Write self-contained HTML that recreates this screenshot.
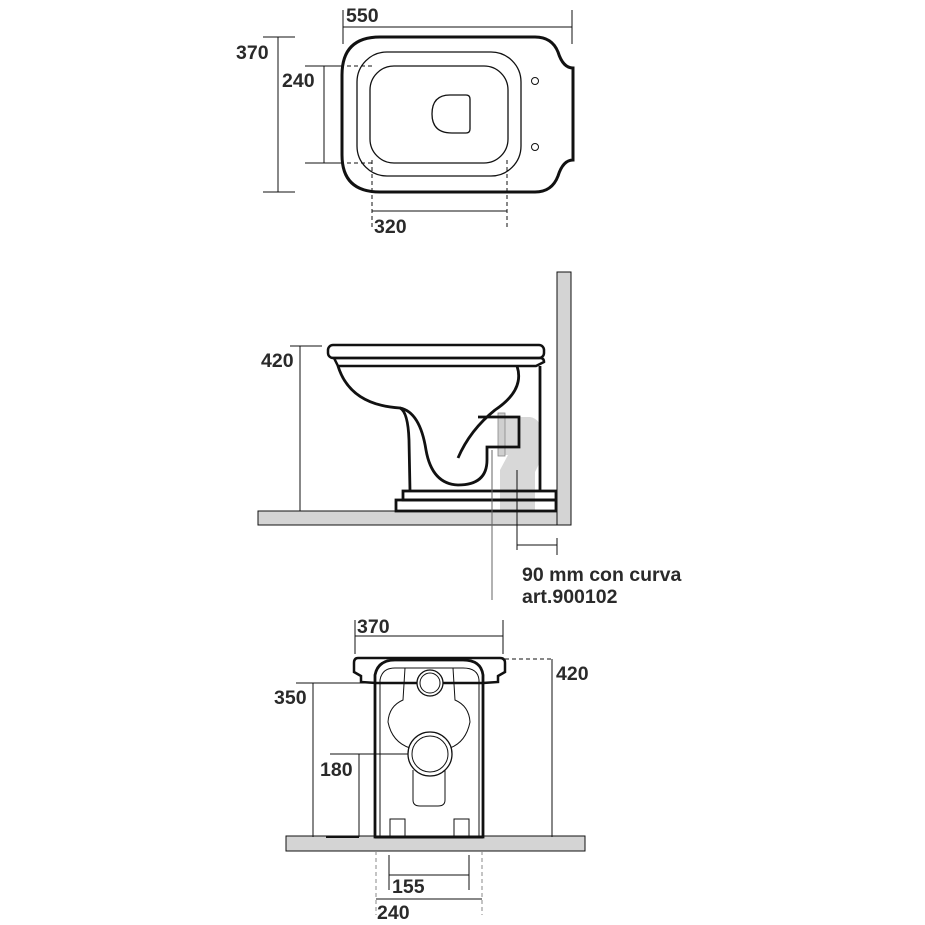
<!DOCTYPE html>
<html><head><meta charset="utf-8"><style>
html,body{margin:0;padding:0;background:#fff;}
svg{display:block;}
text{font-family:"Liberation Sans",Arial,sans-serif;font-weight:bold;font-size:19.5px;fill:#2a2a2a;}
</style></head><body>
<svg width="925" height="925" viewBox="0 0 925 925" xmlns="http://www.w3.org/2000/svg">
<g fill="none" stroke="#111" stroke-width="1">
<!-- TOP VIEW -->
<line x1="343" y1="27" x2="572" y2="27"/>
<line x1="343" y1="10" x2="343" y2="44"/>
<line x1="572" y1="10" x2="572" y2="44"/>
<line x1="278" y1="37" x2="278" y2="192"/>
<line x1="263" y1="37" x2="295" y2="37"/>
<line x1="263" y1="192" x2="295" y2="192"/>
<line x1="324" y1="66" x2="324" y2="163"/>
<line x1="305" y1="66" x2="340" y2="66"/>
<line x1="305" y1="163" x2="340" y2="163"/>
<line x1="340" y1="66" x2="372" y2="66" stroke-dasharray="4,3"/>
<line x1="340" y1="163" x2="372" y2="163" stroke-dasharray="4,3"/>
<line x1="372" y1="211" x2="507" y2="211"/>
<line x1="372" y1="160" x2="372" y2="228" stroke-dasharray="4,3"/>
<line x1="507" y1="160" x2="507" y2="228" stroke-dasharray="4,3"/>
<path d="M380 37 L535 37 Q552 37 558 52 Q563 68 573 68 L573 160 Q563 160 558 176 Q552 192 535 192 L380 192 Q342 192 342 155 L342 75 Q342 37 380 37 Z" stroke-width="3"/>
<rect x="357" y="52" width="164" height="124" rx="30" stroke-width="1.3"/>
<rect x="370" y="66" width="138" height="97" rx="24" stroke-width="1.3"/>
<path d="M450 95 L466 95 Q470 95 470 99 L470 129 Q470 133 466 133 L452 133 Q432 133 432 114 Q432 95 450 95 Z" stroke-width="1.3"/>
<circle cx="535" cy="81" r="3.5"/>
<circle cx="535" cy="147" r="3.5"/>

<!-- SIDE VIEW -->
<rect x="557" y="272" width="14" height="253" fill="#d4d4d4"/>
<rect x="258" y="511" width="299" height="14" fill="#d4d4d4"/>
<path d="M505 417 L530 417 Q541 419 541 432 L541 460 L535 472 L535 511 L500 511 L500 470 L508 455 L505 455 Z" fill="#d8d8d8" stroke="none"/>
<rect x="498" y="413" width="7" height="43" fill="#cfcfcf" stroke="#888" stroke-width="0.8"/>
<line x1="300" y1="346" x2="300" y2="511"/>
<line x1="290" y1="346" x2="322" y2="346"/>
<rect x="328" y="345" width="216" height="13" rx="5" stroke-width="2.5"/>
<path d="M334 358 L540 358 Q544 358 544 362 L536 366 L338 366 Z" stroke-width="2.5"/>
<path d="M338 366 Q350 405 400 408 Q408 412 409 440 L410 491" stroke-width="2.8"/>
<path d="M400 408 Q420 412 426 450 Q432 484 458 485 Q487 485 487 460 L487 447 L519 447 L519 417 L478 417" stroke-width="2.8"/>
<path d="M517 366 Q525 390 495 410 Q470 430 458 458" stroke-width="2.8"/>
<line x1="540" y1="366" x2="540" y2="491" stroke-width="2.8"/>
<rect x="403" y="491" width="153" height="9" stroke-width="2.8"/>
<rect x="396" y="500" width="160" height="11" stroke-width="2.8"/>
<line x1="492" y1="450" x2="492" y2="600" stroke="#666"/>
<line x1="517" y1="470" x2="517" y2="550"/>
<line x1="557" y1="538" x2="557" y2="555"/>
<line x1="517" y1="545" x2="557" y2="545"/>

<!-- FRONT VIEW -->
<rect x="286" y="836" width="299" height="15" fill="#d4d4d4"/>
<line x1="355" y1="636" x2="503" y2="636"/>
<line x1="355" y1="620" x2="355" y2="654"/>
<line x1="503" y1="620" x2="503" y2="654"/>
<line x1="552" y1="659" x2="552" y2="837"/>
<line x1="505" y1="659" x2="552" y2="659" stroke-dasharray="4,3"/>
<line x1="313" y1="683" x2="313" y2="837"/>
<line x1="296" y1="683" x2="380" y2="683"/>
<line x1="380" y1="683" x2="430" y2="683" stroke-dasharray="4,3"/>
<line x1="359" y1="754" x2="359" y2="837"/>
<line x1="330" y1="754" x2="408" y2="754"/>
<line x1="408" y1="754" x2="430" y2="754" stroke-dasharray="4,3"/>
<line x1="326" y1="837" x2="359" y2="837" stroke-width="2"/>
<path d="M358 658 L500 658 Q505 658 505 663 L505 672 L498 676 L498 682 L483 683 L376 683 L361 682 L361 676 L354 672 L354 663 Q354 658 358 658 Z" stroke-width="2.5"/>
<path d="M375 837 L375 675 Q378 660 395 660 L463 660 Q481 660 483 675 L483 837 Z" stroke-width="2.8"/>
<path d="M380 837 L380 680 Q382 668 395 668 L463 668 Q478 668 479 680 L479 837" stroke-width="1"/>
<path d="M405 668 L403 700 Q389 706 388 722 Q392 742 410 748" />
<path d="M453 668 L455 700 Q469 706 470 722 Q466 742 450 748" />
<path d="M413 770 L413 800 Q413 806 420 806 L438 806 Q445 806 445 800 L445 770"/>
<circle cx="430" cy="683" r="13" fill="#fff" stroke-width="1.3"/>
<circle cx="430" cy="683" r="10"/>
<circle cx="430" cy="754" r="22" fill="#fff" stroke-width="1.3"/>
<circle cx="430" cy="754" r="18"/>
<path d="M390 837 L390 819 L405 819 L405 837 M454 837 L454 819 L469 819 L469 837"/>
<line x1="375" y1="837" x2="483" y2="837" stroke-width="3"/>
<line x1="389" y1="875" x2="469" y2="875"/>
<line x1="389" y1="855" x2="389" y2="890"/>
<line x1="469" y1="855" x2="469" y2="890"/>
<line x1="376" y1="899" x2="482" y2="899"/>
<line x1="376" y1="851" x2="376" y2="915" stroke="#888" stroke-dasharray="4,3"/>
<line x1="482" y1="851" x2="482" y2="915" stroke="#888" stroke-dasharray="4,3"/>
</g>
<text x="346" y="22">550</text>
<text x="236" y="59">370</text>
<text x="282" y="87">240</text>
<text x="374" y="233">320</text>
<text x="261" y="367">420</text>
<text x="522" y="581">90 mm con curva</text>
<text x="522" y="603">art.900102</text>
<text x="357" y="633">370</text>
<text x="556" y="680">420</text>
<text x="274" y="704">350</text>
<text x="320" y="776">180</text>
<text x="392" y="893">155</text>
<text x="377" y="919">240</text>
</svg>
</body></html>
